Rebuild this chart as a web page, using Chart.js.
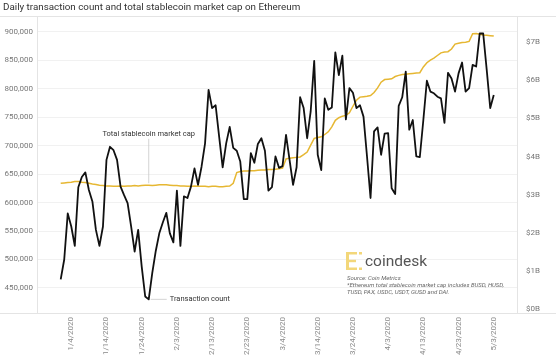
<!DOCTYPE html>
<html>
<head>
<meta charset="utf-8">
<script src="https://cdn.jsdelivr.net/npm/chart.js@4.4.1/dist/chart.umd.min.js"></script>
<style>
  html, body { margin: 0; padding: 0; background: #fff; }
  #wrap { width: 556px; height: 359px; }
</style>
</head>
<body>
<div id="wrap"><canvas id="chart" width="556" height="359"></canvas></div>
<script>
// daily values, 1/1/2020 .. 5/3/2020 (index = day number)
const txCount = [
  465000, 500000, 581000, 558000, 524000, 627000, 645000, 653000, 622000, 602000,
  552000, 524000, 558000, 675000, 698000, 692000, 675000, 628000, 613000, 599000,
  558000, 514000, 552000, 488000, 435000, 430000, 476000, 515000, 546000, 565000,
  582000, 546000, 530000, 621000, 524000, 611000, 608000, 628000, 660000, 631000,
  663000, 704000, 798000, 766000, 771000, 716000, 662000, 704000, 733000, 696000,
  691000, 672000, 606000, 606000, 687000, 670000, 703000, 713000, 691000, 621000,
  627000, 681000, 661000, 664000, 719000, 675000, 631000, 662000, 785000, 766000,
  713000, 760000, 849000, 684000, 657000, 783000, 763000, 767000, 864000, 824000,
  858000, 746000, 801000, 793000, 766000, 771000, 751000, 681000, 608000, 725000,
  732000, 684000, 721000, 722000, 625000, 615000, 770000, 785000, 830000, 728000,
  745000, 681000, 680000, 745000, 814000, 795000, 792000, 786000, 783000, 740000,
  828000, 818000, 795000, 827000, 846000, 795000, 801000, 842000, 839000, 897000,
  897000, 833000, 766000, 789000
];

// total stablecoin market cap, billions of dollars
const marketCap = [
  3.30, 3.31, 3.32, 3.33, 3.35, 3.35, 3.33, 3.32, 3.30, 3.28,
  3.27, 3.25, 3.24, 3.23, 3.23, 3.22, 3.22, 3.23, 3.22, 3.23,
  3.23, 3.24, 3.23, 3.24, 3.25, 3.25, 3.24, 3.25, 3.26, 3.26,
  3.26, 3.25, 3.24, 3.24, 3.23, 3.23, 3.22, 3.22, 3.23, 3.22,
  3.22, 3.22, 3.21, 3.22, 3.22, 3.21, 3.21, 3.22, 3.23, 3.30,
  3.58, 3.61, 3.62, 3.62, 3.63, 3.63, 3.64, 3.65, 3.65, 3.66,
  3.66, 3.67, 3.68, 3.70, 3.94, 3.96, 3.97, 3.98, 3.99, 4.05,
  4.12, 4.30, 4.48, 4.50, 4.52, 4.58, 4.65, 4.78, 4.95, 5.02,
  5.06, 5.08, 5.15, 5.32, 5.48, 5.56, 5.57, 5.58, 5.60, 5.68,
  5.80, 5.95, 6.02, 6.03, 6.04, 6.10, 6.13, 6.15, 6.16, 6.17,
  6.18, 6.19, 6.20, 6.35, 6.46, 6.53, 6.58, 6.65, 6.72, 6.74,
  6.75, 6.82, 6.95, 6.97, 6.99, 7.00, 7.02, 7.22, 7.23, 7.21,
  7.19, 7.18, 7.17, 7.16
];

const xTickDays = [3, 13, 23, 33, 43, 53, 63, 73, 83, 93, 103, 113, 123];
const xTickLabels = ["1/4/2020", "1/14/2020", "1/24/2020", "2/3/2020", "2/13/2020", "2/23/2020",
  "3/4/2020", "3/14/2020", "3/24/2020", "4/3/2020", "4/13/2020", "4/23/2020", "5/3/2020"];
const leftTicks = [450000, 500000, 550000, 600000, 650000, 700000, 750000, 800000, 850000, 900000];
const rightTicks = [0, 1, 2, 3, 4, 5, 6, 7];

const FONT = "Roboto, 'Liberation Sans', sans-serif";

// frame, title, notes, logo
const decor = {
  id: "decor",
  beforeDraw(chart) {
    const { ctx, chartArea: a } = chart;
    ctx.save();
    ctx.fillStyle = "#fff";
    ctx.fillRect(0, 0, chart.width, chart.height);
    ctx.strokeStyle = "#e4e4e4";
    ctx.lineWidth = 1;
    ctx.beginPath();
    ctx.moveTo(0, a.top - 0.5); ctx.lineTo(chart.width, a.top - 0.5);
    ctx.moveTo(0, a.bottom + 0.5); ctx.lineTo(chart.width, a.bottom + 0.5);
    ctx.moveTo(a.left - 0.5, a.top); ctx.lineTo(a.left - 0.5, a.bottom);
    ctx.moveTo(a.right + 0.5, a.top); ctx.lineTo(a.right + 0.5, a.bottom);
    ctx.stroke();
    ctx.restore();
  },
  afterDraw(chart) {
    const { ctx } = chart;
    const x = chart.scales.x, y = chart.scales.y, y1 = chart.scales.y1;
    ctx.save();
    // title
    ctx.fillStyle = "#333";
    ctx.font = "9.8px " + FONT;
    ctx.textBaseline = "middle";
    ctx.textAlign = "left";
    ctx.fillText("Daily transaction count and total stablecoin market cap on Ethereum", 3, 8);

    // annotation: market cap
    const ax = x.getPixelForValue(25);
    ctx.strokeStyle = "#c8c8c8";
    ctx.lineWidth = 0.8;
    ctx.beginPath();
    ctx.moveTo(ax, y.getPixelForValue(712000));
    ctx.lineTo(ax, y1.getPixelForValue(marketCap[25]) - 2);
    ctx.stroke();
    ctx.fillStyle = "#333";
    ctx.font = "7.5px " + FONT;
    ctx.textAlign = "center";
    ctx.fillText("Total stablecoin market cap", ax, y.getPixelForValue(721000));

    // annotation: transaction count
    const ty = y.getPixelForValue(txCount[25]);
    ctx.beginPath();
    ctx.moveTo(ax + 2, ty);
    ctx.lineTo(ax + 18, ty);
    ctx.stroke();
    ctx.textAlign = "left";
    ctx.fillText("Transaction count", ax + 21, ty);

    // logo
    ctx.fillStyle = "#f3d77a";
    ctx.fillRect(346, 252, 3, 18);
    ctx.fillRect(346, 252, 11, 2.5);
    ctx.fillRect(346, 267.5, 11, 2.5);
    ctx.fillRect(349, 259.8, 7, 2.4);
    ctx.fillRect(359, 252, 3, 2.5);
    ctx.fillRect(359, 267.5, 3, 2.5);
    ctx.fillStyle = "#555";
    ctx.font = "15.5px " + FONT;
    ctx.textBaseline = "alphabetic";
    ctx.fillText("coindesk", 365, 266);

    // source note
    ctx.fillStyle = "#666";
    ctx.font = "italic 6px " + FONT;
    ctx.textBaseline = "middle";
    ctx.fillText("Source: Coin Metrics", 347, 278.5);
    ctx.fillText("*Ethereum total stablecoin market cap includes BUSD, HUSD,", 347, 285.5);
    ctx.fillText("TUSD, PAX, USDC, USDT, GUSD and DAI.", 347, 292.5);
    ctx.restore();
  }
};

new Chart(document.getElementById("chart"), {
  type: "line",
  data: {
    datasets: [
      {
        label: "Transaction count",
        data: txCount.map((v, i) => ({ x: i, y: v })),
        borderColor: "#111",
        borderWidth: 1.8,
        pointRadius: 0,
        tension: 0,
        borderJoinStyle: "round",
        yAxisID: "y",
      },
      {
        label: "Total stablecoin market cap",
        data: marketCap.map((v, i) => ({ x: i, y: v })),
        borderColor: "#e6b732",
        borderWidth: 1.5,
        pointRadius: 0,
        tension: 0,
        yAxisID: "y1",
      },
    ],
  },
  options: {
    responsive: false,
    devicePixelRatio: 1,
    animation: false,
    layout: { padding: { top: 17, left: 0, right: 0, bottom: 0 } },
    plugins: { legend: { display: false }, tooltip: { enabled: false } },
    scales: {
      x: {
        type: "linear",
        min: -6.45,
        max: 129.6,
        afterBuildTicks: (s) => { s.ticks = xTickDays.map((v) => ({ value: v })); },
        afterFit: (s) => { s.height = 46; },
        ticks: {
          autoSkip: false,
          maxRotation: 90,
          minRotation: 90,
          padding: 4,
          color: "#888",
          font: { family: FONT, size: 8 },
          callback: (v) => xTickLabels[xTickDays.indexOf(v)],
        },
        grid: { display: false, drawTicks: false },
        border: { display: false },
      },
      y: {
        position: "left",
        min: 406000,
        max: 926000,
        afterBuildTicks: (s) => { s.ticks = leftTicks.map((v) => ({ value: v })); },
        afterFit: (s) => { s.width = 38; },
        ticks: {
          padding: 5,
          color: "#777",
          font: { family: FONT, size: 8 },
          callback: (v) => v.toLocaleString("en-US"),
        },
        grid: { color: "#f1f1f1", drawTicks: false },
        border: { display: false },
      },
      y1: {
        position: "right",
        min: -0.1,
        max: 7.66,
        afterBuildTicks: (s) => { s.ticks = rightTicks.map((v) => ({ value: v })); },
        afterFit: (s) => { s.width = 39; },
        ticks: {
          padding: 9,
          color: "#777",
          font: { family: FONT, size: 8 },
          callback: (v) => "$" + v + "B",
        },
        grid: { drawOnChartArea: false, drawTicks: false },
        border: { display: false },
      },
    },
  },
  plugins: [decor],
});
</script>
</body>
</html>
